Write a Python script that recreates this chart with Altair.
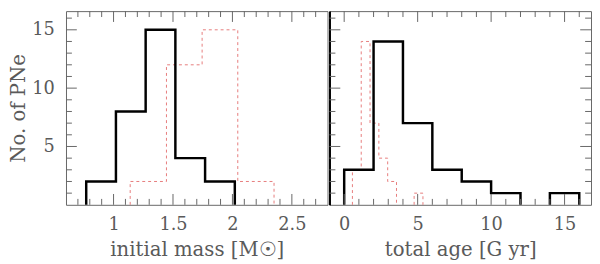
import altair as alt
import pandas as pd

# ---- data ----
mass_black_edges = [0.77, 1.02, 1.27, 1.52, 1.77, 2.02]
mass_black_counts = [2, 8, 15, 4, 2]
mass_red_edges = [1.14, 1.445, 1.745, 2.045, 2.35]
mass_red_counts = [2, 12, 15, 2]

age_black_edges = [0, 2, 4, 6, 8, 10, 12, 14, 16]
age_black_counts = [3, 14, 7, 3, 2, 1, 0, 1]
age_red_edges = [0.56, 1.16, 1.76, 2.36, 2.96, 3.56, 4.16, 4.76, 5.36]
age_red_counts = [3, 14, 7, 4, 2, 0, 0, 1]

mass_major = [1, 1.5, 2, 2.5]
mass_minor = [0.7, 0.8, 0.9, 1.1, 1.2, 1.3, 1.4, 1.6, 1.7, 1.8, 1.9,
              2.1, 2.2, 2.3, 2.4, 2.6, 2.7]
age_major = [0, 5, 10, 15]
age_minor = [1, 2, 3, 4, 6, 7, 8, 9, 11, 12, 13, 14, 16]
count_major = [5, 10, 15]
count_minor = [1, 2, 3, 4, 6, 7, 8, 9, 11, 12, 13, 14, 16]

mass_domain = [0.6, 2.8]
age_domain = [-1.0, 16.8]
count_domain = [0, 16.6]

mass_title = "initial mass [M☉]"
age_title = "total age [G yr]"
count_title = "No. of PNe"

# ---- style ----
W, H = 266, 197
FONT = "DejaVu Serif"
TEXT = "#5a5a5a"
FRAME = "#666666"
RED = "#e77b7b"
MAJ, MIN = 11, 6


def outline(edges, counts):
    """Histogram outline vertices, split into segments at empty bins."""
    rows, seg, cur = [], 0, []

    def flush(points, s):
        for k, (x, y) in enumerate(points):
            rows.append({"x": x, "y": y, "seg": s, "o": k})

    for i, c in enumerate(counts):
        a, b = edges[i], edges[i + 1]
        if c == 0:
            if cur:
                cur.append((a, 0))
                flush(cur, seg)
                seg += 1
                cur = []
            continue
        if not cur:
            cur = [(a, 0)]
        cur += [(a, c), (b, c)]
    if cur:
        cur.append((edges[-1], 0))
        flush(cur, seg)
    return pd.DataFrame(rows)


def panel(black_edges, black_counts, red_edges, red_counts, xdomain,
          xmajor, xminor, xtitle, left_panel):
    xs = alt.Scale(domain=xdomain, nice=False, zero=False)
    ys = alt.Scale(domain=count_domain, nice=False, zero=False)

    xaxis = alt.Axis(values=xmajor, format="~g", ticks=False, domain=False,
                     grid=False, labelFont=FONT, labelFontSize=18,
                     labelColor=TEXT, labelPadding=11, labelFlush=False,
                     title=xtitle, titleFont=FONT, titleFontSize=20,
                     titleColor=TEXT, titleFontWeight="normal",
                     titlePadding=7)
    if left_panel:
        yaxis = alt.Axis(values=count_major, ticks=False, domain=False,
                         grid=False, labelFont=FONT, labelFontSize=18,
                         labelColor=TEXT, labelPadding=12,
                         title=count_title, titleFont=FONT, titleFontSize=20,
                         titleColor=TEXT, titleFontWeight="normal",
                         titlePadding=3)
    else:
        yaxis = alt.Axis(labels=False, ticks=False, grid=False, domain=True,
                         domainColor="black", domainWidth=2, title=None)

    def X(f):
        return alt.X(f, scale=xs, axis=xaxis)

    def Y(f):
        return alt.Y(f, scale=ys, axis=yaxis)

    red = alt.Chart(outline(red_edges, red_counts)).mark_line(
        color=RED, strokeWidth=1, strokeDash=[3, 3]
    ).encode(x=X("x:Q"), y=Y("y:Q"), detail="seg:N", order="o:Q")
    black = alt.Chart(outline(black_edges, black_counts)).mark_line(
        color="black", strokeWidth=2.5, strokeJoin="miter"
    ).encode(x=X("x:Q"), y=Y("y:Q"), detail="seg:N", order="o:Q")

    layers = [red, black]

    # tick marks drawn inward on the frame
    for vals, ln in ((xmajor, MAJ), (xminor, MIN)):
        base = alt.Chart(pd.DataFrame({"v": vals})).mark_rule(
            color=FRAME, strokeWidth=1)
        layers.append(base.encode(x=X("v:Q"), y=alt.value(H),
                                  y2=alt.value(H - ln)))
        layers.append(base.encode(x=X("v:Q"), y=alt.value(0),
                                  y2=alt.value(ln)))
    for vals, ln in ((count_major, MAJ), (count_minor, MIN)):
        base = alt.Chart(pd.DataFrame({"v": vals})).mark_rule(
            color=FRAME, strokeWidth=1)
        layers.append(base.encode(y=Y("v:Q"), x=alt.value(0),
                                  x2=alt.value(ln)))
        if not left_panel:
            layers.append(base.encode(y=Y("v:Q"), x=alt.value(W),
                                      x2=alt.value(W - ln)))

    return alt.layer(*layers).properties(width=W, height=H)


left = panel(mass_black_edges, mass_black_counts, mass_red_edges,
             mass_red_counts, mass_domain, mass_major, mass_minor,
             mass_title, True)
right = panel(age_black_edges, age_black_counts, age_red_edges,
              age_red_counts, age_domain, age_major, age_minor,
              age_title, False)

chart = alt.hconcat(left, right, spacing=0).properties(
    padding=0
).configure_view(stroke=FRAME, strokeWidth=1)

chart.save("out.html", embed_options={"renderer": "svg", "actions": False})
